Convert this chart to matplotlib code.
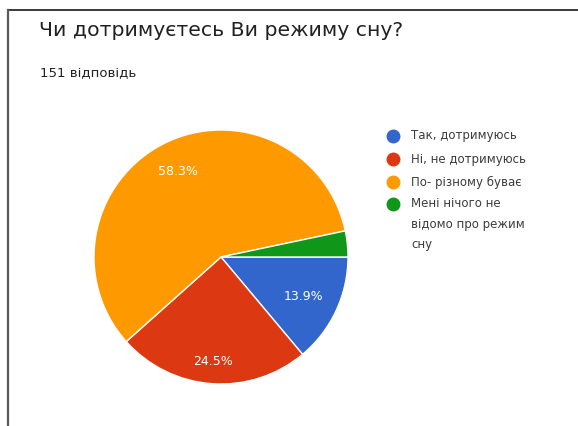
import matplotlib
matplotlib.use("Agg")
import matplotlib.pyplot as plt
from matplotlib.lines import Line2D
import numpy as np

plt.rcParams['font.family'] = ['DejaVu Sans']

title = "Чи дотримуєтесь Ви режиму сну?"
subtitle = "151 відповідь"
labels = ["Так, дотримуюсь", "Ні, не дотримуюсь", "По- різному буває",
          "Мені нічого не\nвідомо про режим\nсну"]
values = [13.9, 24.5, 58.3, 3.3]
pct_labels = ["13.9%", "24.5%", "58.3%", ""]
colors = ["#3366CC", "#DC3912", "#FF9900", "#109618"]

W, H = 578, 427
fig = plt.figure(figsize=(W / 100, H / 100), dpi=100)
fig.patch.set_facecolor("white")

# frame lines
fig.add_artist(Line2D([7.5 / W, 1.0], [1 - 10.5 / H, 1 - 10.5 / H], color="#2b2b2b", lw=1.3))
fig.add_artist(Line2D([7.5 / W, 7.5 / W], [0, 1 - 10.5 / H], color="#5a5a5a", lw=1.6))

fig.text(39 / W, 1 - 31 / H, title, fontsize=14.7, color="#202124", va="center", ha="left")
fig.text(40 / W, 1 - 73 / H, subtitle, fontsize=9.5, color="#202124", va="center", ha="left")

cx, cy, r = 221, 258, 127
ax = fig.add_axes([(cx - r) / W, (H - cy - r) / H, 2 * r / W, 2 * r / H])
wedges, _ = ax.pie(values, colors=colors, startangle=0, counterclock=False,
                   radius=1, wedgeprops=dict(edgecolor="white", linewidth=1))
ax.set_xlim(-1, 1)
ax.set_ylim(-1, 1)
ax.set_aspect("equal")
ax.axis("off")

dists = [0.72, 0.82, 0.76, 0.7]
for w, lab, d in zip(wedges, pct_labels, dists):
    ang = np.deg2rad((w.theta1 + w.theta2) / 2)
    ax.text(d * np.cos(ang), d * np.sin(ang), lab, color="white", fontsize=9,
            ha="center", va="center")

# legend
ys = [137, 160, 183, 205]
for lab, col, y in zip(labels, colors, ys):
    fig.add_artist(Line2D([393 / W], [1 - y / H], marker="o", markersize=9,
                          color=col, linestyle="none"))
    fig.text(411 / W, 1 - (y - 7.5) / H, lab, fontsize=8.5, color="#3c3c3c",
             va="top", ha="left", linespacing=1.75)

fig.savefig("out.png", dpi=100)
